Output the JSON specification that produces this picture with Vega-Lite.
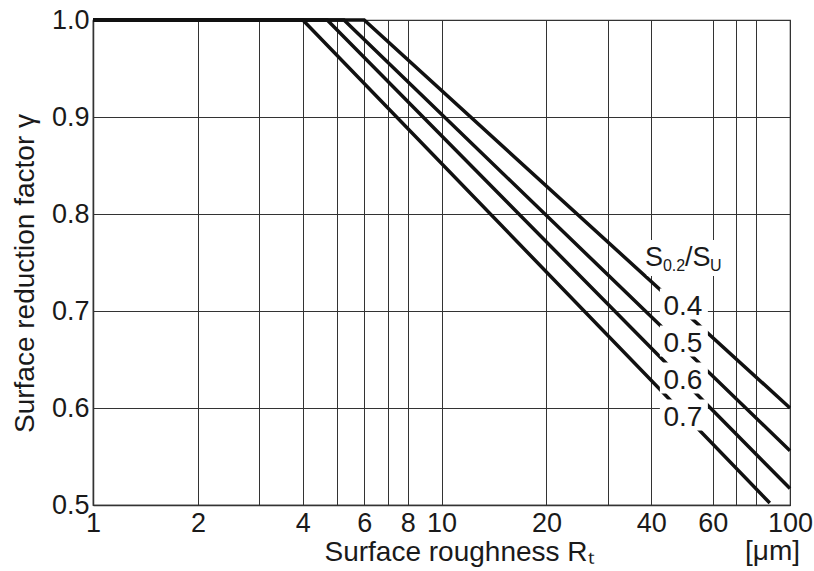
{
  "$schema": "https://vega.github.io/schema/vega-lite/v6.json",
  "width": 697,
  "height": 485,
  "autosize": {"type": "none"},
  "padding": {"left": 93, "top": 20, "right": 24, "bottom": 66},
  "background": "white",
  "config": {
    "view": {"stroke": "#333", "strokeWidth": 1.2},
    "font": "Liberation Sans",
    "text": {"font": "Liberation Sans", "color": "#1a1a1a"}
  },
  "datasets": {
    "curves": [
      {"ratio": "0.4", "x": 1, "y": 1.0},
      {"ratio": "0.4", "x": 6, "y": 1.0},
      {"ratio": "0.4", "x": 100, "y": 0.6},
      {"ratio": "0.5", "x": 1, "y": 1.0},
      {"ratio": "0.5", "x": 5.25, "y": 1.0},
      {"ratio": "0.5", "x": 100, "y": 0.556},
      {"ratio": "0.6", "x": 1, "y": 1.0},
      {"ratio": "0.6", "x": 4.7, "y": 1.0},
      {"ratio": "0.6", "x": 100, "y": 0.517},
      {"ratio": "0.7", "x": 1, "y": 1.0},
      {"ratio": "0.7", "x": 4, "y": 1.0},
      {"ratio": "0.7", "x": 87.5, "y": 0.502}
    ],
    "labels": [
      {"ratio": "0.4", "x": 49.6, "y": 0.7072},
      {"ratio": "0.5", "x": 49.6, "y": 0.6691},
      {"ratio": "0.6", "x": 49.6, "y": 0.6309},
      {"ratio": "0.7", "x": 49.6, "y": 0.5928}
    ],
    "header": [{"x": 49.6, "y": 0.7546}],
    "unit": [{"x": 100, "y": 0.5, "unit": "[μm]"}]
  },
  "encoding": {
    "x": {
      "field": "x",
      "type": "quantitative",
      "scale": {"type": "log", "domain": [1, 100], "nice": false},
      "axis": {
        "values": [1, 2, 3, 4, 5, 6, 7, 8, 10, 20, 30, 40, 60, 70, 80, 100],
        "labelExpr": "indexof([1, 2, 4, 6, 8, 10, 20, 40, 60, 100], datum.value) >= 0 ? '' + datum.value : ''",
        "labelFont": "Liberation Sans",
        "labelFontSize": 27,
        "labelColor": "#1a1a1a",
        "labelPadding": 5,
        "labelFlush": false,
        "labelOverlap": false,
        "ticks": false,
        "domain": true,
        "domainColor": "#333",
        "domainWidth": 1.5,
        "grid": true,
        "gridColor": "#333",
        "gridWidth": 1,
        "gridOpacity": 1,
        "title": "Surface roughness Rₜ",
        "titleFont": "Liberation Sans",
        "titleFontSize": 28,
        "titleFontWeight": "normal",
        "titleColor": "#1a1a1a",
        "titleAlign": "left",
        "titleX": 231,
        "titleY": 55,
        "titleBaseline": "alphabetic"
      }
    },
    "y": {
      "field": "y",
      "type": "quantitative",
      "scale": {"domain": [0.5, 1.0], "zero": false, "nice": false},
      "axis": {
        "values": [0.5, 0.6, 0.7, 0.8, 0.9, 1.0],
        "format": ".1f",
        "labelFont": "Liberation Sans",
        "labelFontSize": 27,
        "labelColor": "#1a1a1a",
        "labelPadding": 4,
        "labelFlush": false,
        "labelOverlap": false,
        "ticks": false,
        "domain": true,
        "domainColor": "#333",
        "domainWidth": 1.5,
        "grid": true,
        "gridColor": "#333",
        "gridWidth": 1,
        "gridOpacity": 1,
        "title": "Surface reduction factor γ",
        "titleFont": "Liberation Sans",
        "titleFontSize": 28,
        "titleFontWeight": "normal",
        "titleColor": "#1a1a1a",
        "titleAngle": -90,
        "titleAlign": "center",
        "titleBaseline": "alphabetic",
        "titleX": -60,
        "titleY": 253
      }
    }
  },
  "layer": [
    {
      "data": {"name": "curves"},
      "mark": {"type": "line", "stroke": "#111", "strokeWidth": 3.5, "clip": false},
      "encoding": {"detail": {"field": "ratio", "type": "nominal"}}
    },
    {
      "data": {"name": "labels"},
      "mark": {"type": "rect", "width": 48, "height": 31, "fill": "white", "strokeWidth": 0}
    },
    {
      "data": {"name": "header"},
      "mark": {"type": "rect", "width": 74, "height": 36, "fill": "white", "strokeWidth": 0}
    },
    {
      "data": {"name": "labels"},
      "mark": {"type": "text", "fontSize": 28, "align": "center", "baseline": "alphabetic", "dx": -1, "dy": 11},
      "encoding": {"text": {"field": "ratio", "type": "nominal"}}
    },
    {
      "data": {"name": "header"},
      "mark": {"type": "text", "text": "S", "fontSize": 27, "align": "left", "baseline": "alphabetic", "dx": -39, "dy": 8}
    },
    {
      "data": {"name": "header"},
      "mark": {"type": "text", "text": "0.2", "fontSize": 16, "align": "left", "baseline": "alphabetic", "dx": -21, "dy": 13}
    },
    {
      "data": {"name": "header"},
      "mark": {"type": "text", "text": "/S", "fontSize": 27, "align": "left", "baseline": "alphabetic", "dx": 1, "dy": 8}
    },
    {
      "data": {"name": "header"},
      "mark": {"type": "text", "text": "U", "fontSize": 16, "align": "left", "baseline": "alphabetic", "dx": 26, "dy": 13}
    },
    {
      "data": {"name": "unit"},
      "mark": {"type": "text", "fontSize": 28, "align": "right", "baseline": "alphabetic", "dx": 10, "dy": 55},
      "encoding": {"text": {"field": "unit", "type": "nominal"}}
    }
  ]
}
